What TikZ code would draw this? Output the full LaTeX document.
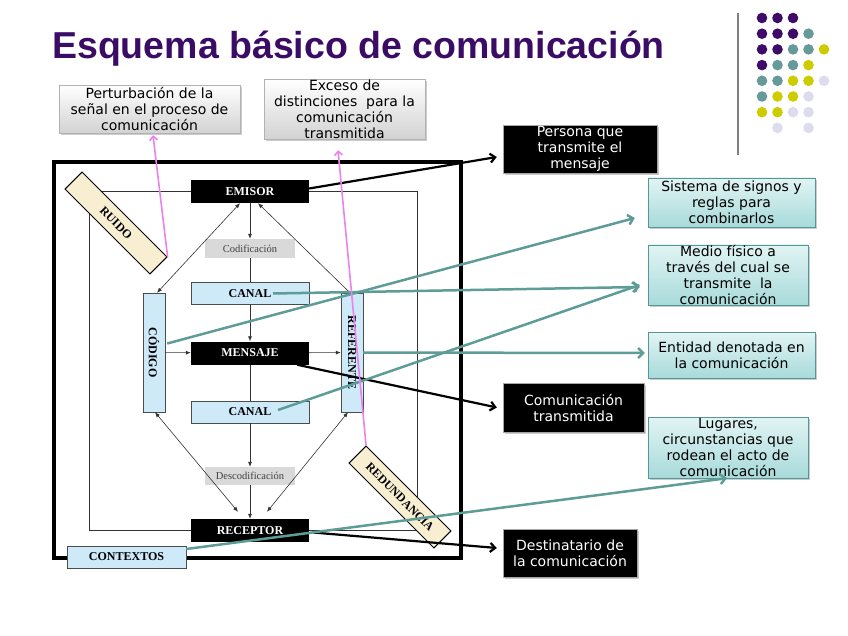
\documentclass[tikz,border=0pt]{standalone}
\usepackage{fontspec}
\setmainfont{Liberation Serif}
\newfontfamily\boxfont{DejaVu Sans}
\newfontfamily\titlefont{Liberation Sans}
\usetikzlibrary{arrows.meta,calc,shadows}
\definecolor{titpur}{RGB}{59,12,102}
\definecolor{dpur}{RGB}{62,12,104}
\definecolor{dteal}{RGB}{102,153,153}
\definecolor{dyel}{RGB}{204,204,0}
\definecolor{dlav}{RGB}{220,220,238}
\definecolor{lblue}{RGB}{206,233,248}
\definecolor{beige}{RGB}{248,238,210}
\definecolor{tealline}{RGB}{94,156,152}
\definecolor{tealtop}{RGB}{226,244,244}
\definecolor{tealbot}{RGB}{168,218,218}
\definecolor{tealedge}{RGB}{85,150,150}
\definecolor{ruidopink}{RGB}{235,130,235}

\begin{document}
\begin{tikzpicture}[x=1pt, y=-1pt,
    inbox/.style={draw=black!70, fill=lblue, minimum width=118pt, minimum height=22pt, inner sep=0pt, font=\bfseries\fontsize{12}{12}\selectfont},
    negro/.style={fill=black, text=white, minimum width=118pt, minimum height=23pt, inner sep=0pt, font=\bfseries\fontsize{12}{12}\selectfont},
    proc/.style={fill=gray!30, text=black!75, minimum width=90pt, minimum height=19pt, inner sep=0pt, font=\fontsize{10.5}{10.5}\selectfont},
    diag/.style={draw, line width=1pt, fill=beige, rotate=-45, minimum width=120pt, minimum height=24pt, inner sep=0pt, font=\bfseries\fontsize{12}{12}\selectfont},
    nota/.style={draw=gray!60, top color=white, bottom color=gray!35, drop shadow={opacity=0.4, shadow xshift=2pt, shadow yshift=-2pt}, align=center, inner sep=0pt, font=\boxfont\fontsize{14}{16}\selectfont},
    defi/.style={draw=tealedge, top color=tealtop, bottom color=tealbot, drop shadow={opacity=0.4, shadow xshift=2pt, shadow yshift=-2pt}, align=center, inner sep=0pt, font=\boxfont\fontsize{14}{16}\selectfont},
    rol/.style={draw=gray!70, fill=black, text=white, drop shadow={opacity=0.4, shadow xshift=2pt, shadow yshift=-2pt}, align=center, inner sep=0pt, font=\boxfont\fontsize{14}{16}\selectfont},
    linea/.style={black!80, line width=0.6pt},
    flujo/.style={linea, -{Latex[length=5pt,width=4pt]}},
    doble/.style={linea, {Latex[length=5pt,width=4pt]}-{Latex[length=5pt,width=4pt]}},
    negra/.style={line width=2.2pt, -{Straight Barb[length=5pt,width=9pt]}},
    verde/.style={tealline, line width=2.5pt, -{Straight Barb[length=5pt,width=10pt]}},
    rosa/.style={ruidopink, line width=1.6pt, -{Straight Barb[length=4pt,width=8pt]}}]
  \useasboundingbox (0,0) rectangle (848,636);
  \node[anchor=base west, text=titpur, inner sep=0pt, font=\titlefont\bfseries\fontsize{37.5}{40}\selectfont] (titulo) at (52,59) {Esquema básico de comunicación};
  \draw[gray, line width=1.5pt] (738,13) -- (738,155);
  \foreach \c/\r/\col in {1/1/dpur,2/1/dpur,3/1/dpur,
      1/2/dpur,2/2/dpur,3/2/dpur,4/2/dteal,
      1/3/dpur,2/3/dpur,3/3/dteal,4/3/dteal,5/3/dyel,
      1/4/dpur,2/4/dteal,3/4/dteal,4/4/dyel,
      1/5/dteal,2/5/dteal,3/5/dyel,4/5/dyel,5/5/dlav,
      1/6/dteal,2/6/dyel,3/6/dyel,4/6/dlav,
      1/7/dyel,2/7/dyel,3/7/dlav,4/7/dlav,
      2/8/dlav,4/8/dlav}
    \fill[\col] ({746.5+15.5*\c},{2.3+15.7*\r}) circle (5.3);

  \draw[line width=4pt] (54,162) rectangle (461,558);
  \draw[linea] (89,191) rectangle (417,530);

  \node[negro] (emisor) at (250,191.5) {EMISOR};
  \node[proc] (codif) at (250,248.5) {Codificación};
  \node[inbox] (canalA) at (250,293.5) {CANAL};
  \node[negro] (mensaje) at (250,353) {MENSAJE};
  \node[inbox] (canalB) at (250,412) {CANAL};
  \node[proc, minimum height=18pt] (descod) at (250,476) {Descodificación};
  \node[negro] (receptor) at (250,530.5) {RECEPTOR};
  \node[inbox, minimum width=22pt, minimum height=119pt] (codigo) at (154,352.5) {\rotatebox{-90}{CÓDIGO}};
  \node[inbox, minimum width=22pt, minimum height=119pt] (referente) at (352,352.5) {\rotatebox{-90}{REFERENTE}};
  \node[inbox, minimum width=119pt] (contextos) at (126.5,557) {CONTEXTOS};
  \node[diag] (ruido) at (116,223) {RUIDO};
  \node[diag] (redund) at (400,497) {REDUNDANCIA};

  \draw[flujo] (emisor) -- (codif);
  \draw[linea] (codif) -- (canalA);
  \draw[flujo] (canalA) -- (mensaje);
  \draw[linea] (mensaje) -- (canalB);
  \draw[flujo] (canalB) -- (descod);
  \draw[flujo] (descod) -- (receptor);
  \draw[flujo] (codigo) -- (mensaje);
  \draw[flujo] (mensaje) -- (referente);
  \draw[doble] ($(emisor.south)+(-10,0)$) -- ($(codigo.north)+(3,0)$);
  \draw[flujo] ($(referente.north)+(-2,0)$) -- ($(emisor.south)+(8,0)$);
  \draw[doble] ($(codigo.south)+(1,0)$) -- ($(receptor.north)+(-12,-7)$);
  \draw[doble] ($(referente.south)+(-4,0)$) -- ($(receptor.north)+(17,-7)$);

  \node[nota, minimum width=181pt, minimum height=48pt] (perturb) at (149.5,109) {Perturbación de la\\señal en el proceso de\\comunicación};
  \node[nota, minimum width=161pt, minimum height=60pt] (exceso) at (344.5,109) {Exceso de\\distinciones~~para la\\comunicación\\transmitida};
  \node[rol, minimum width=154pt, minimum height=48pt] (persona) at (580,149) {Persona que\\transmite el\\mensaje};
  \node[defi, minimum width=167pt, minimum height=49pt] (sistema) at (731.5,202.5) {Sistema de signos y\\reglas para\\combinarlos};
  \node[defi, minimum width=160pt, minimum height=60pt] (medio) at (728,275) {Medio físico a\\través del cual se\\transmite~~la\\comunicación};
  \node[defi, minimum width=167pt, minimum height=46pt] (entidad) at (731.5,355) {Entidad denotada en\\la comunicación};
  \node[rol, minimum width=141pt, minimum height=49pt] (comtrans) at (573.5,407.5) {Comunicación\\transmitida};
  \node[defi, minimum width=160pt, minimum height=61pt] (lugares) at (728,447.5) {Lugares,\\circunstancias que\\rodean el acto de\\comunicación};
  \node[rol, minimum width=134pt, minimum height=48pt] (destin) at (570,553) {Destinatario de\\la comunicación};

  \draw[negra] ($(emisor.east)+(0,-3)$) -- ($(persona.west)+(-6,8)$);
  \draw[negra] ($(mensaje.south)+(47,0)$) -- ($(comtrans.west)+(-6,0)$);
  \draw[negra] ($(receptor.east)+(4,2)$) -- ($(destin.west)+(-6,-5)$);
  \draw[verde] ($(codigo.east)+(2,-9)$) -- ($(sistema.west)+(-13,15.5)$);
  \draw[verde] ($(canalA.center)+(23,0)$) -- ($(medio.west)+(-8,12)$);
  \draw[verde] ($(canalB.center)+(28,-2)$) -- ($(medio.west)+(-8,10)$);
  \draw[verde] (referente.east) -- ($(entidad.west)+(-3,-2)$);
  \draw[verde] ($(contextos.east)+(0,-8)$) -- ($(lugares.south)+(-1,0)$);
  \draw[rosa] (ruido.north east) -- ($(perturb.south)+(3.5,2)$);
  \draw[rosa] (redund.north west) -- ($(exceso.south)+(-6.5,11)$);
\end{tikzpicture}
\end{document}
